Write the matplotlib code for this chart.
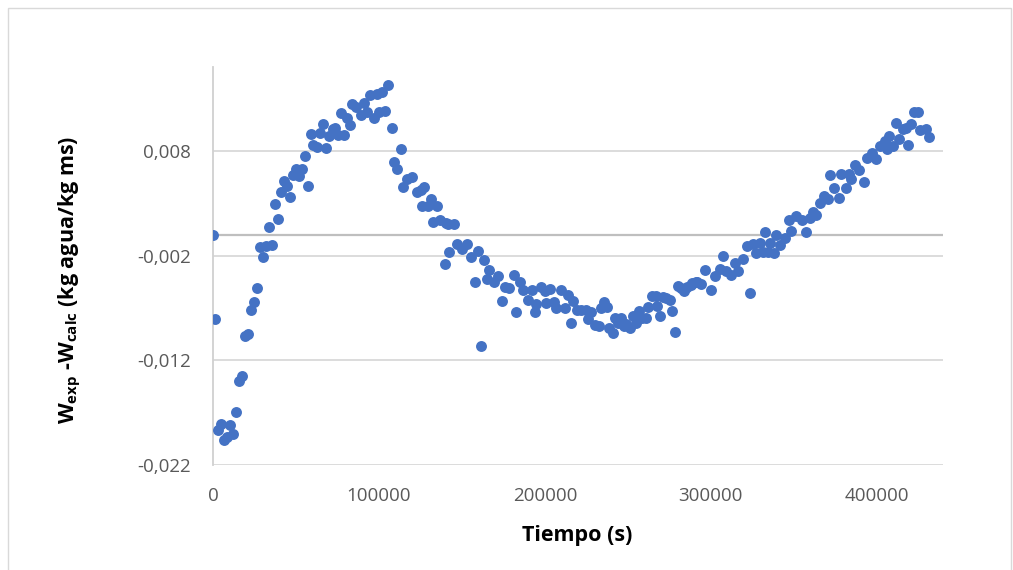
import matplotlib
matplotlib.use("Agg")
import matplotlib.pyplot as plt
from matplotlib.patches import Rectangle

# tiempo (s)
tiempo = [
    0, 1400, 3200, 4800, 6600, 8600, 10200, 12200, 13900, 15500,
    17700, 19300, 21300, 22900, 24700, 26500, 28100, 30300, 31900, 33700,
    35700, 37500, 39000, 41000, 43000, 44400, 46400, 48000, 49800, 51800,
    53800, 55400, 57400, 58800, 60400, 62500, 64400, 66100, 68100, 70100,
    72100, 73500, 75500, 76900, 78900, 80900, 82500, 83500, 85900, 89100,
    91100, 93000, 94500, 96900, 98600, 100200, 101800, 103800, 105500, 107800,
    109200, 111000, 113100, 114600, 116700, 119900, 122700, 125100, 125700, 127300,
    129300, 131300, 132800, 134800, 137100, 139800, 140400, 141700, 142400, 145300,
    147200, 149800, 152800, 155800, 157800, 159800, 161400, 163400, 164900, 166500,
    169400, 171900, 174100, 175900, 178500, 181500, 182900, 184900, 186900, 189900,
    192300, 193900, 194900, 197600, 200000, 201000, 203000, 205400, 206600, 210000,
    212000, 214000, 215500, 217000, 219100, 222100, 225100, 226000, 228000, 230000,
    232500, 234100, 235500, 237500, 238700, 240800, 242200, 244200, 246200, 247600,
    249200, 251600, 253200, 255200, 256800, 258800, 260800, 262200, 264600, 266900,
    267600, 269700, 271300, 273300, 275300, 276700, 278300, 280300, 282300, 283700,
    285700, 288300, 289000, 291000, 292000, 294400, 296800, 300000, 302400, 305400,
    307400, 309400, 312500, 314500, 316500, 319500, 321900, 323500, 325500, 327500,
    329500, 331500, 332500, 334500, 335900, 337900, 339500, 341500, 344600, 347100,
    348600, 351500, 355100, 357200, 359600, 361600, 363700, 366100, 368100, 370700,
    372100, 374100, 377300, 378700, 381300, 383300, 384700, 386700, 389300, 392200,
    394200, 397400, 399800, 402200, 404800, 406200, 407400, 409800, 411400, 413400,
    415800, 417800, 418800, 420800, 422800, 424900, 426200, 429500, 431500,
]

# W_exp - W_calc (kg agua/kg ms)
residuo = [
    0.0000, -0.0081, -0.0187, -0.0181, -0.0196, -0.0193, -0.0182, -0.0190, -0.0169, -0.0140,
    -0.0135, -0.0097, -0.0095, -0.0072, -0.0064, -0.0051, -0.0012, -0.0021, -0.0011, 0.0007,
    -0.0010, 0.0029, 0.0015, 0.0041, 0.0051, 0.0046, 0.0036, 0.0057, 0.0063, 0.0056,
    0.0063, 0.0075, 0.0046, 0.0096, 0.0086, 0.0084, 0.0097, 0.0106, 0.0083, 0.0094,
    0.0101, 0.0102, 0.0095, 0.0116, 0.0095, 0.0111, 0.0105, 0.0125, 0.0122, 0.0114,
    0.0126, 0.0117, 0.0133, 0.0111, 0.0134, 0.0117, 0.0136, 0.0118, 0.0143, 0.0102,
    0.0069, 0.0063, 0.0082, 0.0045, 0.0053, 0.0055, 0.0041, 0.0043, 0.0027, 0.0045,
    0.0027, 0.0034, 0.0012, 0.0027, 0.0014, -0.0028, 0.0011, 0.0010, -0.0017, 0.0010,
    -0.0009, -0.0014, -0.0009, -0.0021, -0.0045, -0.0016, -0.0106, -0.0024, -0.0042, -0.0034,
    -0.0045, -0.0040, -0.0063, -0.0050, -0.0051, -0.0039, -0.0074, -0.0045, -0.0053, -0.0062,
    -0.0053, -0.0074, -0.0066, -0.0050, -0.0054, -0.0065, -0.0052, -0.0064, -0.0070, -0.0053,
    -0.0070, -0.0058, -0.0084, -0.0063, -0.0072, -0.0072, -0.0072, -0.0081, -0.0074, -0.0086,
    -0.0087, -0.0070, -0.0064, -0.0069, -0.0089, -0.0094, -0.0080, -0.0084, -0.0080, -0.0087,
    -0.0085, -0.0089, -0.0078, -0.0084, -0.0073, -0.0080, -0.0080, -0.0069, -0.0059, -0.0059,
    -0.0068, -0.0078, -0.0060, -0.0061, -0.0062, -0.0073, -0.0093, -0.0049, -0.0051, -0.0054,
    -0.0050, -0.0048, -0.0046, -0.0045, -0.0045, -0.0047, -0.0034, -0.0053, -0.0040, -0.0033,
    -0.0020, -0.0035, -0.0039, -0.0027, -0.0035, -0.0023, -0.0011, -0.0056, -0.0009, -0.0018,
    -0.0008, -0.0017, 0.0002, -0.0017, -0.0008, -0.0018, 0.0000, -0.0010, -0.0003, 0.0014,
    0.0003, 0.0018, 0.0014, 0.0002, 0.0016, 0.0022, 0.0019, 0.0030, 0.0037, 0.0034,
    0.0057, 0.0044, 0.0035, 0.0058, 0.0044, 0.0058, 0.0053, 0.0066, 0.0062, 0.0050,
    0.0073, 0.0078, 0.0072, 0.0085, 0.0089, 0.0082, 0.0094, 0.0085, 0.0107, 0.0091,
    0.0101, 0.0102, 0.0086, 0.0106, 0.0117, 0.0117, 0.0100, 0.0101, 0.0093,
]

x_ticks = [0, 100000, 200000, 300000, 400000]
x_labels = ["0", "100000", "200000", "300000", "400000"]
y_ticks = [-0.022, -0.012, -0.002, 0.008]
y_labels = ["-0,022", "-0,012", "-0,002", "0,008"]

plt.rcParams['font.family'] = ['Open Sans', 'DejaVu Sans']
plt.rcParams['mathtext.fontset'] = 'custom'
plt.rcParams['mathtext.rm'] = 'Open Sans:bold'

W, H = 1013, 570
fig = plt.figure(figsize=(W / 100, H / 100), dpi=100)
ax = fig.add_axes([213 / W, 1 - 465 / H, 730 / W, 398 / H])

ax.scatter(tiempo, residuo, s=62, color="#4472C4", linewidths=0, zorder=3)

ax.set_xlim(0, 440000)
ax.set_ylim(-0.022, 0.016)
ax.set_xticks(x_ticks)
ax.set_xticklabels(x_labels)
ax.set_yticks(y_ticks)
ax.set_yticklabels(y_labels)
ax.tick_params(length=0, labelsize=13.5, labelcolor="#595959")
ax.tick_params(axis="x", pad=16)
ax.tick_params(axis="y", pad=16)

ax.grid(axis="y", color="#d9d9d9", linewidth=1.3, zorder=0)
ax.axhline(0, color="#bfbfbf", linewidth=1.6, zorder=1)
for s in ("top", "right", "bottom"):
    ax.spines[s].set_visible(False)
ax.spines["left"].set_color("#d0d0d0")
ax.spines["left"].set_linewidth(1.3)

fig.text(70 / W, 1 - 280 / H, r"W$_{\mathrm{exp}}$ -W$_{\mathrm{calc}}$ (kg agua/kg ms)",
         rotation=90, ha="center", va="center", fontsize=15.5, fontweight="bold")
fig.text(577 / W, 1 - 535 / H, "Tiempo (s)", ha="center", va="center",
         fontsize=15.5, fontweight="bold")

# chart area border
fig.patches.append(Rectangle((8 / W, -0.05), 1003 / W, 1.05 - 8 / H,
                             transform=fig.transFigure, fill=False,
                             edgecolor="#d9d9d9", linewidth=1.0))

fig.savefig("out.png", dpi=100)
